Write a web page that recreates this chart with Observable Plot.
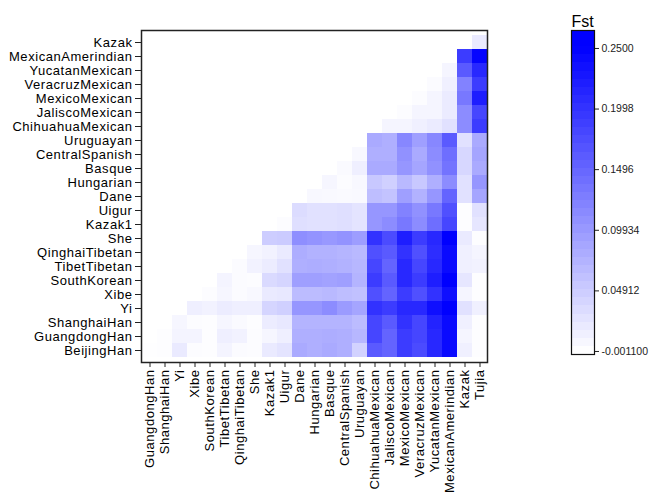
<!DOCTYPE html>
<html><head><meta charset="utf-8">
<script src="https://cdn.jsdelivr.net/npm/d3@7"></script>
<script src="https://cdn.jsdelivr.net/npm/@observablehq/plot@0.6"></script>
<style>
body{margin:0;background:#fff;}
#wrap{position:relative;width:650px;height:501px;overflow:hidden;font-family:"Liberation Sans",Arial,sans-serif;}
#main{position:absolute;left:0;top:0;}
#legend{position:absolute;left:540px;top:0;}
</style></head><body><div id="wrap"><div id="main"></div><div id="legend"></div></div>
<script>
// populations in matrix order
const populations = ["BeijingHan","GuangdongHan","ShanghaiHan","Yi","Xibe","SouthKorean","TibetTibetan","QinghaiTibetan","She","Kazak1","Uigur","Dane","Hungarian","Basque","CentralSpanish","Uruguayan","ChihuahuaMexican","JaliscoMexican","MexicoMexican","VeracruzMexican","YucatanMexican","MexicanAmerindian","Kazak","Tujia"];
// y axis labels (top to bottom) and x axis labels (left to right)
const rowLabels = ["Kazak","MexicanAmerindian","YucatanMexican","VeracruzMexican","MexicoMexican","JaliscoMexican","ChihuahuaMexican","Uruguayan","CentralSpanish","Basque","Hungarian","Dane","Uigur","Kazak1","She","QinghaiTibetan","TibetTibetan","SouthKorean","Xibe","Yi","ShanghaiHan","GuangdongHan","BeijingHan"];
const colLabels = ["GuangdongHan","ShanghaiHan","Yi","Xibe","SouthKorean","TibetTibetan","QinghaiTibetan","She","Kazak1","Uigur","Dane","Hungarian","Basque","CentralSpanish","Uruguayan","ChihuahuaMexican","JaliscoMexican","MexicoMexican","VeracruzMexican","YucatanMexican","MexicanAmerindian","Kazak","Tujia"];
// pairwise Fst, row i = populations[i], values for populations[i+1 ...]
const fstBeijingHan = [0.000,0.001,0.020,0.002,0.001,0.010,0.003,0.002,0.020,0.025,0.083,0.078,0.083,0.078,0.043,0.161,0.152,0.191,0.176,0.211,0.240,0.014,0.001];
const fstGuangdongHan = [0.001,0.010,0.010,0.001,0.015,0.012,0.002,0.008,0.015,0.078,0.078,0.080,0.078,0.070,0.181,0.152,0.191,0.181,0.211,0.240,0.009,0.001];
const fstShanghaiHan = [0.008,0.002,0.001,0.008,0.004,0.001,0.018,0.022,0.073,0.073,0.073,0.073,0.065,0.181,0.161,0.201,0.181,0.216,0.240,0.014,0.001];
const fstYi = [0.015,0.012,0.018,0.015,0.015,0.040,0.045,0.102,0.102,0.112,0.097,0.088,0.201,0.191,0.211,0.211,0.235,0.250,0.028,0.014];
const fstXibe = [0.002,0.008,0.003,0.006,0.020,0.022,0.065,0.065,0.068,0.063,0.060,0.171,0.152,0.191,0.171,0.201,0.235,0.009,0.001];
const fstSouthKorean = [0.010,0.003,0.002,0.035,0.040,0.093,0.093,0.090,0.093,0.073,0.191,0.161,0.211,0.191,0.220,0.250,0.024,0.001];
const fstTibetTibetan = [0.003,0.012,0.018,0.028,0.078,0.080,0.078,0.075,0.070,0.181,0.152,0.211,0.181,0.211,0.240,0.014,0.012];
const fstQinghaiTibetan = [0.008,0.012,0.020,0.080,0.075,0.075,0.072,0.068,0.171,0.161,0.201,0.171,0.206,0.240,0.014,0.009];
const fstShe = [0.048,0.050,0.110,0.105,0.100,0.105,0.095,0.201,0.176,0.220,0.191,0.211,0.250,0.020,0.001];
const fstKazak1 = [0.002,0.030,0.028,0.028,0.030,0.025,0.102,0.112,0.132,0.112,0.142,0.181,0.001,0.024];
const fstUigur = [0.033,0.028,0.028,0.030,0.025,0.102,0.102,0.122,0.107,0.132,0.171,0.001,0.028];
const fstDane = [0.006,0.005,0.004,0.005,0.063,0.058,0.093,0.075,0.102,0.152,0.028,0.088];
const fstHungarian = [0.008,0.002,0.006,0.053,0.045,0.068,0.053,0.078,0.112,0.028,0.102];
const fstBasque = [0.004,0.015,0.083,0.083,0.102,0.088,0.107,0.137,0.038,0.083];
const fstCentralSpanish = [0.006,0.078,0.078,0.107,0.083,0.112,0.142,0.038,0.088];
const fstUruguayan = [0.083,0.078,0.117,0.093,0.117,0.161,0.028,0.083];
const fstChihuahuaMexican = [0.009,0.009,0.014,0.019,0.028,0.112,0.191];
const fstJaliscoMexican = [0.002,0.009,0.009,0.019,0.112,0.181];
const fstMexicoMexican = [0.002,0.009,0.019,0.132,0.220];
const fstVeracruzMexican = [0.003,0.014,0.122,0.191];
const fstYucatanMexican = [0.009,0.161,0.211];
const fstMexicanAmerindian = [0.191,0.245];
const fstKazak = [0.020];
// legend ticks
const legendTicks = [-0.0011,0.04912,0.09934,0.1496,0.1998,0.25];
const legendTickLabels = ["-0.001100","0.04912","0.09934","0.1496","0.1998","0.2500"];

const fstRows = [fstBeijingHan,fstGuangdongHan,fstShanghaiHan,fstYi,fstXibe,fstSouthKorean,fstTibetTibetan,fstQinghaiTibetan,fstShe,fstKazak1,fstUigur,fstDane,fstHungarian,fstBasque,fstCentralSpanish,fstUruguayan,fstChihuahuaMexican,fstJaliscoMexican,fstMexicoMexican,fstVeracruzMexican,fstYucatanMexican,fstMexicanAmerindian,fstKazak];
const cells = [];
fstRows.forEach((vals,i)=>vals.forEach((v,k)=>cells.push({row:populations[i],col:populations[i+1+k],value:v})));

const font = '"Liberation Sans",Arial,sans-serif';
const color = {type:"linear",domain:[-0.0011,0.25],range:["#ffffff","#0000ff"],clamp:true};

const main = Plot.plot({
  width:500,height:501,marginLeft:141,marginRight:13,marginTop:30,marginBottom:139,
  style:{fontFamily:font,fontSize:"13px",color:"#000",background:"transparent",letterSpacing:"0.55px"},
  x:{domain:colLabels,padding:0,label:null,axis:null},
  y:{domain:rowLabels,padding:0,label:null,axis:null},
  color,
  marks:[
    Plot.cell(cells,{x:"col",y:"row",fill:"value",inset:0,shapeRendering:"crispEdges"}),
    Plot.axisX({tickRotate:-90,tickSize:5,tickPadding:2,fontSize:13,label:null,stroke:"#222"}),
    Plot.axisY({tickSize:6,tickPadding:3,fontSize:13,label:null,stroke:"#222"}),
    Plot.frame({stroke:"#222",strokeWidth:1.5})
  ]
});
document.getElementById("main").appendChild(main);

const lo = -0.0036, hi = 0.2649, step = (hi-lo)/40;
const ramp = d3.range(40).map(k=>lo+k*step);
const legend = Plot.plot({
  width:110,height:501,marginLeft:31,marginRight:56,marginTop:30,marginBottom:147,
  style:{fontFamily:font,color:"#222",background:"transparent"},
  x:{domain:[0,1],axis:null},
  y:{domain:[lo,hi],axis:null},
  color,
  marks:[
    Plot.rect(ramp,{x1:0,x2:1,y1:d=>d,y2:d=>d+step,fill:d=>d+step/2,shapeRendering:"crispEdges"}),
    Plot.axisY({anchor:"right",ticks:legendTicks,tickFormat:d=>legendTickLabels[legendTicks.indexOf(d)],tickSize:4,tickPadding:3,fontSize:10.5,label:null}),
    Plot.frame({stroke:"#111",strokeWidth:1.2}),
    Plot.text(["Fst"],{frameAnchor:"top-left",dy:-15,textAnchor:"start",fontSize:16,fill:"#000"})
  ]
});
document.getElementById("legend").appendChild(legend);
</script></body></html>
